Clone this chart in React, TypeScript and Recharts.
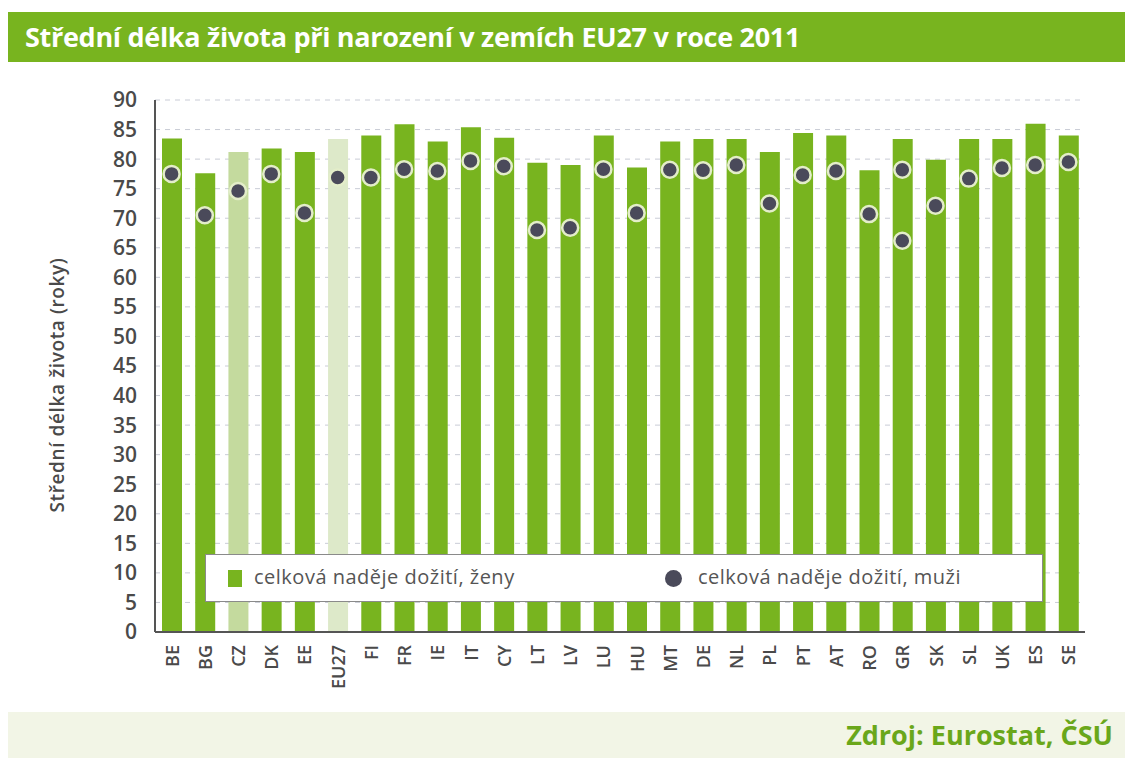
import { ComposedChart, Bar, Scatter, XAxis, YAxis, CartesianGrid, Legend, Cell } from "recharts";

const countries = [
  "BE", "BG", "CZ", "DK", "EE", "EU27", "FI", "FR", "IE", "IT", "CY", "LT", "LV", "LU",
  "HU", "MT", "DE", "NL", "PL", "PT", "AT", "RO", "GR", "SK", "SL", "UK", "ES", "SE",
];

// celková naděje dožití, ženy
const zeny = [
  83.5, 77.6, 81.2, 81.8, 81.2, 83.4, 84.0, 85.9, 83.0, 85.4, 83.6, 79.4, 79.0, 84.0,
  78.6, 83.0, 83.4, 83.4, 81.2, 84.4, 84.0, 78.1, 83.4, 79.9, 83.4, 83.4, 86.0, 84.0,
];

// celková naděje dožití, muži
const muzi = [
  77.5, 70.5, 74.6, 77.5, 70.9, 76.9, 76.9, 78.3, 78.0, 79.7, 78.8, 68.0, 68.4, 78.3,
  70.9, 78.2, 78.1, 79.0, 72.5, 77.3, 78.0, 70.7, 78.2, 72.1, 76.7, 78.5, 79.0, 79.5,
];

// second dot drawn on the GR bar in the source
const muziNavic: (number | null)[] = countries.map((c) => (c === "GR" ? 66.2 : null));

const yTicks = [0, 5, 10, 15, 20, 25, 30, 35, 40, 45, 50, 55, 60, 65, 70, 75, 80, 85, 90];

const GREEN = "#78b41f";
const LIGHT_CZ = "#c4da9e";
const LIGHT_EU = "#dde9c9";
const DOT = "#4a4a5a";
const TEXT = "#4a4a4a";
const FONT = "'Open Sans', sans-serif";

const barColor: Record<string, string> = { CZ: LIGHT_CZ, EU27: LIGHT_EU };

const data = countries.map((c, i) => ({
  country: c,
  zeny: zeny[i],
  muzi: muzi[i],
  muziNavic: muziNavic[i],
}));

function ManDot(props: any) {
  const { cx, cy, payload, dataKey } = props;
  const key = dataKey ?? "muzi";
  if (payload && payload[key] == null) return <g />;
  if (cx == null || cy == null || isNaN(cy)) return <g />;
  return <circle cx={cx} cy={cy} r={8} fill={DOT} stroke="#e3edc9" strokeWidth={2.5} />;
}

function XTick({ x, y, payload }: any) {
  return (
    <text
      x={x}
      y={y}
      transform={`rotate(-90, ${x}, ${y})`}
      textAnchor="end"
      dominantBaseline="central"
      fontSize={18}
      fontWeight={600}
      fontFamily={FONT}
      fill={TEXT}
    >
      {payload.value}
    </text>
  );
}

function LegendBox() {
  return (
    <div
      style={{
        width: 838,
        height: 48,
        boxSizing: "border-box",
        background: "#fff",
        border: "1px solid #8a8a8a",
        position: "relative",
        fontFamily: FONT,
        fontSize: 20,
        letterSpacing: 0.5,
        color: "#555",
      }}
    >
      <div style={{ position: "absolute", left: 22, top: 15, width: 14, height: 17, background: GREEN }} />
      <div style={{ position: "absolute", left: 48, top: 8 }}>celková naděje dožití, ženy</div>
      <div
        style={{ position: "absolute", left: 459, top: 15, width: 17, height: 17, borderRadius: "50%", background: DOT }}
      />
      <div style={{ position: "absolute", left: 492, top: 8 }}>celková naděje dožití, muži</div>
    </div>
  );
}

export default function App() {
  return (
    <div style={{ position: "absolute", left: 0, top: 0, width: 1125, height: 758, background: "#fff", fontFamily: FONT }}>
      <div style={{ position: "absolute", left: 0, top: 0 }}>
        <ComposedChart width={1125} height={712} data={data} margin={{ top: 100, right: 40, left: 0, bottom: 0 }}>
          <CartesianGrid vertical={false} stroke="#c9ccd6" strokeDasharray="5 5" />
          <XAxis
            dataKey="country"
            interval={0}
            height={80}
            tick={<XTick />}
            tickLine={false}
            tickSize={6}
            tickMargin={7}
            axisLine={{ stroke: "#555", strokeWidth: 2 }}
          />
          <YAxis
            domain={[0, 90]}
            ticks={yTicks}
            interval={0}
            width={155}
            tickLine={false}
            tickSize={0}
            tickMargin={18}
            axisLine={{ stroke: "#555", strokeWidth: 2 }}
            tick={{ fontSize: 21, fontWeight: 600, fill: TEXT, fontFamily: FONT }}
            label={{
              content: ({ viewBox }: any) => {
                const cy = viewBox.y + viewBox.height / 2 + 19;
                return (
                  <text
                    x={57}
                    y={cy}
                    transform={`rotate(-90, 57, ${cy})`}
                    textAnchor="middle"
                    dominantBaseline="central"
                    fontSize={19}
                    fontWeight={600}
                    letterSpacing={0.6}
                    fontFamily={FONT}
                    fill={TEXT}
                  >
                    Střední délka života (roky)
                  </text>
                );
              },
            }}
          />
          <Legend
            layout="horizontal"
            verticalAlign="middle"
            align="center"
            wrapperStyle={{ left: 205, top: 554, width: 838, height: 48 }}
            content={() => <LegendBox />}
          />
          <Bar dataKey="zeny" name="celková naděje dožití, ženy" barSize={20} fill={GREEN} isAnimationActive={false}>
            {data.map((d) => (
              <Cell key={d.country} fill={barColor[d.country] ?? GREEN} />
            ))}
          </Bar>
          <Scatter dataKey="muzi" name="celková naděje dožití, muži" shape={<ManDot dataKey="muzi" />} isAnimationActive={false} />
          <Scatter dataKey="muziNavic" legendType="none" shape={<ManDot dataKey="muziNavic" />} isAnimationActive={false} />
        </ComposedChart>
      </div>
      <div
        style={{
          position: "absolute",
          left: 8,
          top: 12,
          width: 1117,
          height: 50,
          background: GREEN,
          color: "#fff",
          fontWeight: 700,
          fontSize: 27,
          lineHeight: "50px",
          paddingLeft: 17,
          boxSizing: "border-box",
          letterSpacing: -0.3,
        }}
      >
        Střední délka života při narození v zemích EU27 v roce 2011
      </div>
      <div
        style={{
          position: "absolute",
          left: 8,
          top: 712,
          width: 1117,
          height: 46,
          background: "#f2f5e6",
          color: "#6aa71a",
          fontWeight: 700,
          fontSize: 27,
          lineHeight: "46px",
          textAlign: "right",
          paddingRight: 12,
          boxSizing: "border-box",
        }}
      >
        Zdroj: Eurostat, ČSÚ
      </div>
    </div>
  );
}
